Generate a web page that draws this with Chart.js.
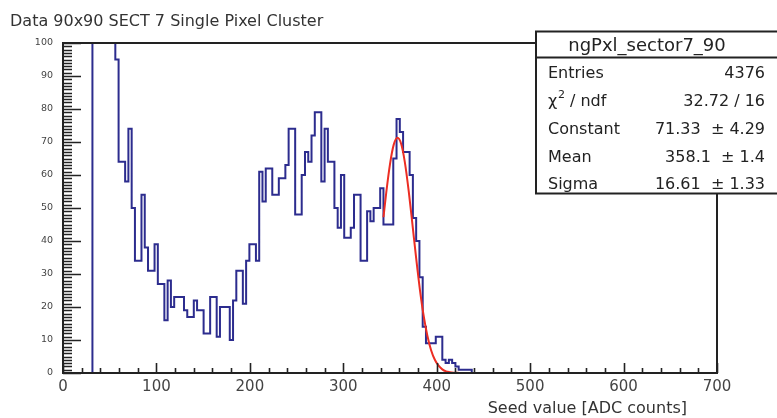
<!DOCTYPE html>
<html>
<head>
<meta charset="utf-8">
<title>ngPxl_sector7_90</title>
<script src="https://cdn.jsdelivr.net/npm/chart.js@4.4.0/dist/chart.umd.min.js"></script>
<style>
  html, body { margin: 0; padding: 0; background: #fff; }
  #wrap { position: relative; width: 777px; height: 418px; }
</style>
</head>
<body>
<div id="wrap"><canvas id="myChart" width="777" height="418"></canvas></div>
<script>
'use strict';

// Texts of the plot
const titleText = 'Data 90x90 SECT 7 Single Pixel Cluster';
const xTitle = 'Seed value [ADC counts]';
const histName = 'ngPxl_sector7_90';

// Histogram binning (ADC counts)
const binWidth = 3.5;
const firstBinLow = 31.5;
// bin contents, first bin starts at firstBinLow
// (the first 7 bins are above the frame, guessed)
const seedCounts = [
  160, 240, 230, 190, 160, 130, 110, 95, 64, 64,
  58, 74, 50, 34, 34, 54, 38, 31, 31, 39,
  27, 27, 16, 28, 20, 23, 23, 23, 19, 17,
  17, 22, 19, 19, 12, 12, 23, 23, 11, 20,
  20, 20, 10, 22, 31, 31, 21, 34, 39, 39,
  34, 61, 52, 62, 62, 54, 54, 59, 59, 63,
  74, 74, 48, 48, 60, 67, 64, 72, 79, 79,
  58, 74, 64, 64, 50, 44, 60, 41, 41, 44,
  54, 54, 34, 34, 49, 46, 50, 50, 56, 45,
  45, 45, 65, 77, 73, 67, 67, 60, 47, 40,
  29, 14, 9, 9, 9, 11, 11, 4, 3, 4,
  3, 2, 1, 1, 1, 1
];

// Red fit curve
const fitX = [343, 346, 350, 354, 358, 362, 366, 370, 374, 378, 382, 386, 390, 394, 398, 402, 406, 410, 414, 418, 422, 426];
const fitY = [47.2, 54.7, 63.3, 69.2, 71.3, 69.4, 63.7, 55.2, 45.1, 34.8, 25.3, 17.4, 11.3, 6.9, 4.0, 2.2, 1.1, 0.5, 0.25, 0.1, 0.04, 0.01];

// Stats box
const statLabels = ['Entries', 'chi2', 'Constant', 'Mean', 'Sigma'];
const statValues = ['4376', '32.72 / 16', '71.33  \u00b1 4.29', '358.1  \u00b1 1.4', '16.61  \u00b1 1.33'];

// Axes
const xMin = 0, xMax = 700, xStep = 100, xMinorStep = 20;
const yMin = 0, yMax = 100, yStep = 10, yMinorStep = 1;

const FONT = '"DejaVu Sans", "Liberation Sans", sans-serif';

// build the step points from the bin contents (each point = left edge of a bin)
function histPoints() {
  let pts = [{x: xMin, y: 0}];
  for (let i = 0; i < seedCounts.length; i++) {
    pts.push({x: firstBinLow + i * binWidth, y: seedCounts[i]});
  }
  pts.push({x: firstBinLow + seedCounts.length * binWidth, y: 0});
  pts.push({x: xMax, y: 0});
  return pts;
}

function fitPoints() {
  let pts = [];
  for (let i = 0; i < fitX.length; i++) {
    pts.push({x: fitX[i], y: fitY[i]});
  }
  return pts;
}

// ROOT style frame, inner ticks, titles and stats box
const rootLook = {
  id: 'rootLook',
  afterDraw(chart) {
    const ctx = chart.ctx;
    const area = chart.chartArea;
    const xs = chart.scales.x;
    const ys = chart.scales.y;
    ctx.save();
    ctx.strokeStyle = '#222';
    ctx.lineWidth = 1.6;
    ctx.beginPath();
    for (let v = yMin; v <= yMax; v += yMinorStep) {
      let len = (v % yStep === 0) ? 18 : 9;
      let py = Math.round(ys.getPixelForValue(v)) + 0.5;
      ctx.moveTo(area.left, py);
      ctx.lineTo(area.left + len, py);
    }
    for (let v = xMin; v <= xMax; v += xMinorStep) {
      let len = (v % xStep === 0) ? 10 : 5;
      let px = Math.round(xs.getPixelForValue(v)) + 0.5;
      ctx.moveTo(px, area.bottom);
      ctx.lineTo(px, area.bottom - len);
    }
    ctx.stroke();

    // frame
    ctx.lineWidth = 2;
    ctx.strokeRect(area.left, area.top, area.right - area.left, area.bottom - area.top);

    // titles
    ctx.fillStyle = '#333';
    ctx.font = '16px ' + FONT;
    ctx.textAlign = 'left';
    ctx.textBaseline = 'alphabetic';
    ctx.fillText(titleText, 10, 26);
    ctx.textAlign = 'right';
    ctx.fillText(xTitle, 687, 413);

    // stats box
    ctx.fillStyle = '#fff';
    ctx.fillRect(536, 31.5, 260, 162);
    ctx.strokeStyle = '#222';
    ctx.lineWidth = 2;
    ctx.strokeRect(536, 31.5, 260, 162);
    ctx.beginPath();
    ctx.moveTo(536, 57.5);
    ctx.lineTo(796, 57.5);
    ctx.stroke();

    ctx.fillStyle = '#222';
    ctx.font = '18px ' + FONT;
    ctx.textAlign = 'center';
    ctx.fillText(histName, 647, 51);

    const rowY = [78, 106, 134, 162, 189];
    ctx.font = '16px ' + FONT;
    for (let i = 0; i < statLabels.length; i++) {
      ctx.textAlign = 'left';
      if (statLabels[i] === 'chi2') {
        ctx.fillText('\u03c7', 548, rowY[i]);
        ctx.font = '11px ' + FONT;
        ctx.fillText('2', 558, rowY[i] - 8);
        ctx.font = '16px ' + FONT;
        ctx.fillText('/ ndf', 570, rowY[i]);
      } else {
        ctx.fillText(statLabels[i], 548, rowY[i]);
      }
      ctx.textAlign = 'right';
      ctx.fillText(statValues[i], 765, rowY[i]);
    }
    ctx.restore();
  }
};

const ctx = document.getElementById('myChart').getContext('2d');

new Chart(ctx, {
  type: 'line',
  data: {
    datasets: [
      {
        label: 'fit',
        data: fitPoints(),
        borderColor: 'rgb(236, 45, 35)',
        borderWidth: 2,
        pointRadius: 0,
        fill: false,
        cubicInterpolationMode: 'monotone',
        order: 0
      },
      {
        label: histName,
        data: histPoints(),
        borderColor: '#2c2c8e',
        borderWidth: 2,
        pointRadius: 0,
        fill: false,
        // horizontal at the bin value up to the next edge, then vertical
        stepped: 'before',
        borderJoinStyle: 'miter',
        order: 1
      }
    ]
  },
  options: {
    responsive: false,
    animation: false,
    devicePixelRatio: 1,
    layout: { padding: { left: 0, right: 60, top: 43, bottom: 0 } },
    plugins: {
      legend: { display: false },
      tooltip: { enabled: false },
      title: { display: false }
    },
    scales: {
      x: {
        type: 'linear',
        min: xMin,
        max: xMax,
        grid: { display: false, drawTicks: false },
        border: { display: false },
        ticks: {
          stepSize: xStep,
          padding: 5,
          maxRotation: 0,
          color: '#444',
          font: { family: FONT, size: 15 }
        },
        afterFit(scale) { scale.height = 45; }
      },
      y: {
        min: yMin,
        max: yMax,
        grid: { display: false, drawTicks: false },
        border: { display: false },
        ticks: {
          stepSize: yStep,
          padding: 10,
          color: '#444',
          font: { family: FONT, size: 9.5 }
        },
        afterFit(scale) { scale.width = 63; }
      }
    }
  },
  plugins: [rootLook]
});
</script>
</body>
</html>
